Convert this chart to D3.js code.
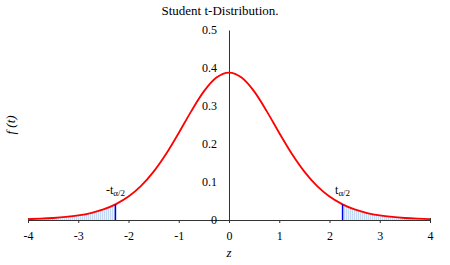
<!DOCTYPE html>
<html>
<head>
<meta charset="utf-8">
<script src="https://cdn.jsdelivr.net/npm/d3@7"></script>
<style>
  body { margin: 0; background: #fff; }
  svg text { font-family: "Liberation Serif", "Times New Roman", serif; }
</style>
</head>
<body>
<div class="chart"></div>
<script>
// values (curve heights at each t)
const tValues = [-4, -3.75, -3.5, -3.25, -3, -2.75, -2.5, -2.26, -2.25, -2, -1.75, -1.5, -1.25, -1, -0.75, -0.5, -0.25,
  0, 0.25, 0.5, 0.75, 1, 1.25, 1.5, 1.75, 2, 2.25, 2.26, 2.5, 2.75, 3, 3.25, 3.5, 3.75, 4];
const fValues = [0.0023, 0.0035, 0.0053, 0.0080, 0.0121, 0.0184, 0.0278, 0.0410, 0.0417, 0.0617, 0.0897, 0.1272, 0.1743, 0.2291, 0.2866, 0.3384, 0.3748,
  0.3880, 0.3748, 0.3384, 0.2866, 0.2291, 0.1743, 0.1272, 0.0897, 0.0617, 0.0417, 0.0410, 0.0278, 0.0184, 0.0121, 0.0080, 0.0053, 0.0035, 0.0023];
const tCrit = 2.26;
const xTicks = [-4, -3, -2, -1, 0, 1, 2, 3, 4];
const yTicks = [0, 0.1, 0.2, 0.3, 0.4, 0.5];

let data = tValues.map((t, i) => ({ t: t, f: fValues[i] }));

let width = 450, height = 265;
let svg = d3.select('.chart').append('svg')
    .attr('width', width)
    .attr('height', height);

let x = d3.scaleLinear().domain([-4, 4]).range([28, 430]);
let y = d3.scaleLinear().domain([0, 0.5]).range([220, 30]);

// hatch pattern for the tails
let pat = svg.append('defs').append('pattern')
    .attr('id', 'hatch')
    .attr('patternUnits', 'userSpaceOnUse')
    .attr('width', 2).attr('height', 2);
pat.append('rect').attr('width', 2).attr('height', 2).attr('fill', '#eaf2fc');
pat.append('rect').attr('x', 0).attr('width', 1).attr('height', 2)
    .attr('fill', '#c3d8f3');

let area = d3.area()
    .x(d => x(d.t))
    .y0(y(0))
    .y1(d => y(d.f))
    .curve(d3.curveMonotoneX);

svg.append('path')
    .datum(data.filter(d => d.t <= -tCrit))
    .attr('d', area)
    .attr('fill', 'url(#hatch)');
svg.append('path')
    .datum(data.filter(d => d.t >= tCrit))
    .attr('d', area)
    .attr('fill', 'url(#hatch)');

// x axis
let xAxis = d3.axisBottom(x).tickValues(xTicks).tickSize(3).tickSizeOuter(0).tickFormat(d3.format('d'));
let gx = svg.append('g')
    .attr('transform', 'translate(0,' + y(0) + ')')
    .call(xAxis)
    .attr('font-family', null)
    .attr('font-size', null);
gx.select('.domain').attr('stroke', '#333');
gx.selectAll('.tick line').attr('stroke', '#333');
gx.selectAll('.tick text')
    .style('font-size', '12px')
    .style('font-family', '"Liberation Serif", serif')
    .attr('fill', '#000')
    .attr('dy', '1.15em')
    .text(d => d < 0 ? '-' + Math.abs(d) : d);
// end ticks go both ways
gx.selectAll('.tick line').filter(d => d === -4 || d === 4).attr('y1', -2).attr('y2', 3);

// y axis (at t = 0)
let yAxis = d3.axisLeft(y).tickValues(yTicks).tickSize(0).tickPadding(12).tickFormat(d => d === 0 ? '0' : d3.format('.1f')(d));
let gy = svg.append('g')
    .attr('transform', 'translate(' + x(0) + ',0)')
    .call(yAxis)
    .attr('font-family', null)
    .attr('font-size', null);
gy.select('.domain').attr('stroke', '#333');
gy.selectAll('.tick text')
    .style('font-size', '12px')
    .style('font-family', '"Liberation Serif", serif')
    .attr('fill', '#000');

// red density curve
let line = d3.line()
    .x(d => x(d.t))
    .y(d => y(d.f))
    .curve(d3.curveMonotoneX);
svg.append('path')
    .datum(data)
    .attr('d', line)
    .attr('fill', 'none')
    .attr('stroke', '#ff0000')
    .attr('stroke-width', 1.8);

// critical value lines
let fCrit = data.find(d => d.t === tCrit).f;
[-tCrit, tCrit].forEach(function (t) {
    svg.append('line')
        .attr('x1', x(t)).attr('x2', x(t))
        .attr('y1', y(0)).attr('y2', y(fCrit))
        .attr('stroke', '#0000ee')
        .attr('stroke-width', 1.5);
});

// labels for the critical values
function critLabel(t, prefix) {
    let txt = svg.append('text')
        .attr('x', x(t))
        .attr('y', 194)
        .attr('text-anchor', 'middle')
        .style('font-size', '12px');
    txt.append('tspan').text(prefix + 't');
    txt.append('tspan').style('font-size', '9px').attr('dy', 2).text('\u03b1/2');
}
critLabel(-tCrit, '-');
critLabel(tCrit, '');

// title
svg.append('text')
    .attr('x', 220).attr('y', 15)
    .attr('text-anchor', 'middle')
    .style('font-size', '13px')
    .text('Student t-Distribution.');

// axis names
svg.append('text')
    .attr('x', x(0)).attr('y', 257)
    .attr('text-anchor', 'middle')
    .style('font-size', '13px')
    .style('font-style', 'italic')
    .text('z');

svg.append('text')
    .attr('transform', 'translate(15,125)rotate(-90)')
    .attr('text-anchor', 'middle')
    .style('font-size', '13px')
    .style('font-style', 'italic')
    .text('f (t)');
</script>
</body>
</html>
